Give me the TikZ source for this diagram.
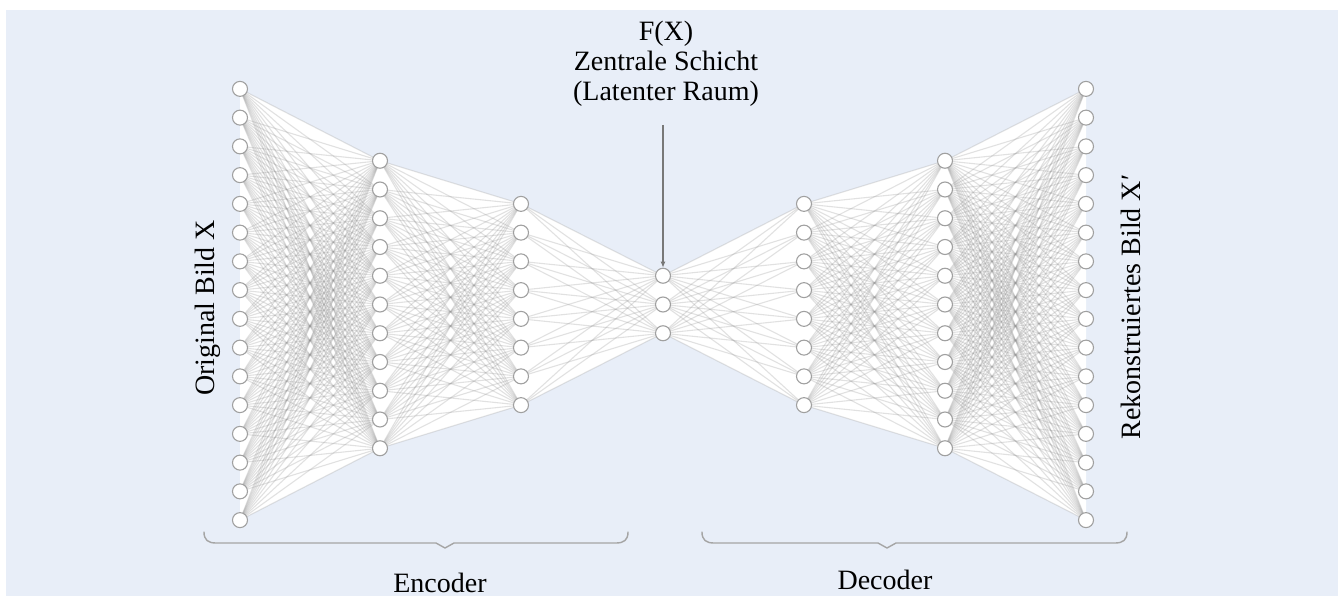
\documentclass[tikz,border=0pt]{standalone}
\usepackage{fontspec}
\setmainfont{Liberation Serif}
\usetikzlibrary{arrows.meta}
\definecolor{panel}{RGB}{232,238,248}
\definecolor{edgegray}{RGB}{150,150,150}
\definecolor{ringgray}{RGB}{160,160,160}
\definecolor{bracegray}{RGB}{165,165,165}
\definecolor{arrowgray}{RGB}{120,120,120}
\pgfdeclarelayer{panellayer}
\pgfdeclarelayer{hulllayer}
\pgfdeclarelayer{linklayer}
\pgfsetlayers{panellayer,hulllayer,linklayer,main}
\tikzset{
  neuron/.style={circle, draw=ringgray, fill=white, line width=1.1pt,
                 minimum size=15pt, inner sep=0pt},
  link/.style={draw=edgegray, line width=1.1pt, draw opacity=0.28},
  hull/.style={fill=white},
  caption/.style={font=\fontsize{28}{30}\selectfont, text=black, inner sep=0pt},
  bracket/.style={draw=bracegray, line width=1.4pt, line cap=round, line join=round},
  pointer/.style={draw=arrowgray, line width=1.4pt,
                  -{Latex[length=6pt,width=5pt]}},
}
\begin{document}
\begin{tikzpicture}[x=1pt, y=-1pt]
\useasboundingbox (0,0) rectangle (1341,596);
\begin{pgfonlayer}{panellayer}
  \fill[panel] (6,10) rectangle (1338,596);
\end{pgfonlayer}

% neurons of the seven layers
\foreach \name/\x/\n in {A/240/16, B/380/11, C/521/8, D/663/3, E/804/8, F/945/11, G/1086/16}{
  \foreach \i in {1,...,\n}{
    \node[neuron] (\name-\i) at (\x, {304.5+(\i-(\n+1)/2)*28.75}) {};
  }
}

% white band behind each fully connected block, then the links
\foreach \a/\na/\b/\nb in {A/16/B/11, B/11/C/8, C/8/D/3, D/3/E/8, E/8/F/11, F/11/G/16}{
  \begin{pgfonlayer}{hulllayer}
    \fill[hull] (\a-1.center) -- (\b-1.center) -- (\b-\nb.center) -- (\a-\na.center) -- cycle;
  \end{pgfonlayer}
  \begin{pgfonlayer}{linklayer}
    \foreach \i in {1,...,\na}{
      \foreach \j in {1,...,\nb}{
        \draw[link] (\a-\i.center) -- (\b-\j.center);
      }
    }
  \end{pgfonlayer}
}

% latent-space label and its pointer
\node[caption, align=center] (title) at (666,64) {F(X)\\Zentrale Schicht\\(Latenter Raum)};
\coordinate (pointerstart) at (663,125);
\draw[pointer] (pointerstart) -- (D-1.north);

% side labels
\node[caption, rotate=90, anchor=base] (inlabel) at (214,308) {Original Bild X};
\node[caption, rotate=90, anchor=base] (outlabel) at (1140,307) {Rekonstruiertes Bild X′};

% braces under encoder and decoder
\draw[bracket] (204,532) .. controls (204,540) and (208,543) .. (216,543)
  -- (436,543) -- (445,548) -- (454,543) -- (616,543)
  .. controls (624,543) and (628,540) .. (628,532);
\draw[bracket] (702,532) .. controls (702,540) and (706,543) .. (714,543)
  -- (878,543) -- (887,548) -- (896,543) -- (1115,543)
  .. controls (1123,543) and (1127,540) .. (1127,532);
\node[caption, anchor=base] (enc) at (440,592) {Encoder};
\node[caption, anchor=base] (dec) at (885,589) {Decoder};
\end{tikzpicture}
\end{document}
